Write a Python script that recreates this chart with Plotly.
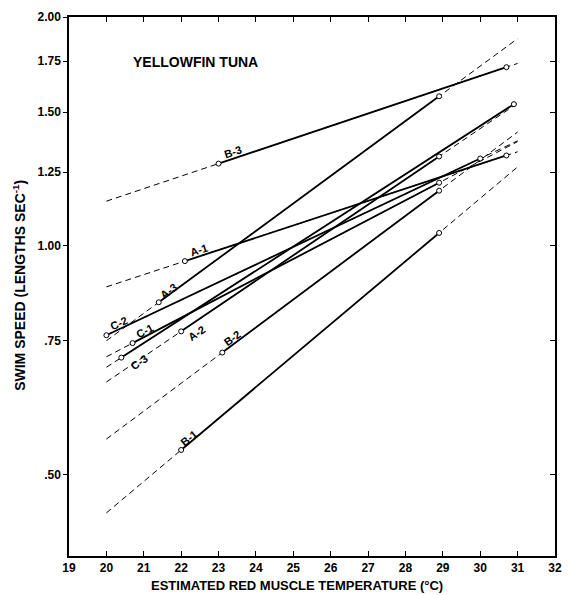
import math
import plotly.graph_objects as go

# ---------------- data ----------------
fish = ["A-1", "A-2", "A-3", "B-1", "B-2", "B-3", "C-1", "C-2", "C-3"]
temp_low = [22.1, 22.0, 21.4, 22.0, 23.1, 23.0, 20.7, 20.0, 20.4]
speed_low = [0.955, 0.772, 0.843, 0.539, 0.724, 1.283, 0.745, 0.763, 0.713]
temp_high = [30.7, 28.9, 28.9, 28.9, 28.9, 30.7, 28.9, 30.0, 30.9]
speed_high = [1.315, 1.311, 1.573, 1.040, 1.182, 1.718, 1.211, 1.303, 1.536]
extrap_range = [20, 31]

x_ticks = list(range(19, 33))
y_ticks = [0.50, 0.75, 1.00, 1.25, 1.50, 1.75, 2.00]
y_tick_labels = [".50", ".75", "1.00", "1.25", "1.50", "1.75", "2.00"]

# ---------------- styles ----------------
FONT = "Liberation Sans"
label_style = {  # (xshift, yshift, angle)
    "A-1": (14, 11, -18), "A-2": (16, -2, -34), "A-3": (10, 11, -36),
    "B-1": (8, 12, -39), "B-2": (10, 15, -36), "B-3": (14, 12, -18),
    "C-1": (12, 12, -27), "C-2": (13, 12, -25), "C-3": (18, -4, -34),
}


def speed_at(t, t1, v1, t2, v2):
    return v1 * (v2 / v1) ** ((t - t1) / (t2 - t1))


fig = go.Figure()

# dashed extrapolations (full range, solid drawn on top)
for i, name in enumerate(fish):
    xs = extrap_range
    ys = [speed_at(t, temp_low[i], speed_low[i], temp_high[i], speed_high[i]) for t in xs]
    fig.add_trace(go.Scatter(x=xs, y=ys, mode="lines",
                             line=dict(color="black", width=1, dash="6px,4px"),
                             showlegend=False, hoverinfo="skip"))

# solid measured segments with open circles
for i, name in enumerate(fish):
    fig.add_trace(go.Scatter(x=[temp_low[i], temp_high[i]], y=[speed_low[i], speed_high[i]],
                             mode="lines+markers",
                             line=dict(color="black", width=1.8),
                             marker=dict(symbol="circle", size=5, color="white",
                                         line=dict(color="black", width=1)),
                             showlegend=False, name=name))

# invisible trace for right-hand axis
fig.add_trace(go.Scatter(x=[temp_low[0]], y=[speed_low[0]], yaxis="y2", mode="markers",
                         marker=dict(opacity=0), showlegend=False, hoverinfo="skip"))

annotations = []
for i, name in enumerate(fish):
    xs_, ys_, ang = label_style[name]
    annotations.append(dict(x=temp_low[i], y=math.log10(speed_low[i]), xref="x", yref="y",
                            text=name, showarrow=False, xshift=xs_, yshift=ys_,
                            textangle=ang,
                            font=dict(family=FONT, size=11, color="black", weight="bold")))

annotations.append(dict(x=0.26, y=0.9165, xref="paper", yref="paper", text="YELLOWFIN TUNA",
                        showarrow=False, xanchor="center", yanchor="middle",
                        font=dict(family=FONT, size=14, color="black", weight="bold")))
annotations.append(dict(x=0.47, y=-0.054, xref="paper", yref="paper",
                        text="ESTIMATED RED MUSCLE TEMPERATURE (°C)",
                        showarrow=False, xanchor="center", yanchor="middle",
                        font=dict(family=FONT, size=13, color="black", weight="bold")))
annotations.append(dict(x=-0.103, y=0.503, xref="paper", yref="paper",
                        text="SWIM SPEED (LENGTHS SEC<sup>-1</sup>)", textangle=-90,
                        showarrow=False, xanchor="center", yanchor="middle",
                        font=dict(family=FONT, size=14, color="black", weight="bold")))

yrange = [math.log10(0.391), math.log10(2.0)]
fig.update_layout(
    width=569, height=595,
    margin=dict(l=69, r=7, t=17, b=39),
    paper_bgcolor="white", plot_bgcolor="white",
    showlegend=False,
    annotations=annotations,
    xaxis=dict(range=[19, 32], tickvals=x_ticks, ticktext=[str(v) for v in x_ticks],
               ticks="inside", ticklen=5, tickwidth=1, tickcolor="black",
               showline=True, linecolor="black", linewidth=1.5, mirror="ticks",
               showgrid=False, zeroline=False,
               tickfont=dict(family=FONT, size=12, color="black", weight="bold")),
    yaxis=dict(type="log", range=yrange, tickvals=y_ticks, ticktext=y_tick_labels,
               ticks="outside", ticklen=4, tickwidth=1, tickcolor="black",
               showline=True, linecolor="black", linewidth=1.5,
               showgrid=False, zeroline=False,
               tickfont=dict(family=FONT, size=12, color="black", weight="bold")),
    yaxis2=dict(type="log", range=yrange, overlaying="y", side="right",
                tickvals=y_ticks, showticklabels=False,
                ticks="inside", ticklen=5, tickwidth=1, tickcolor="black",
                showline=True, linecolor="black", linewidth=2,
                showgrid=False, zeroline=False),
)

fig.write_html("out.html")
